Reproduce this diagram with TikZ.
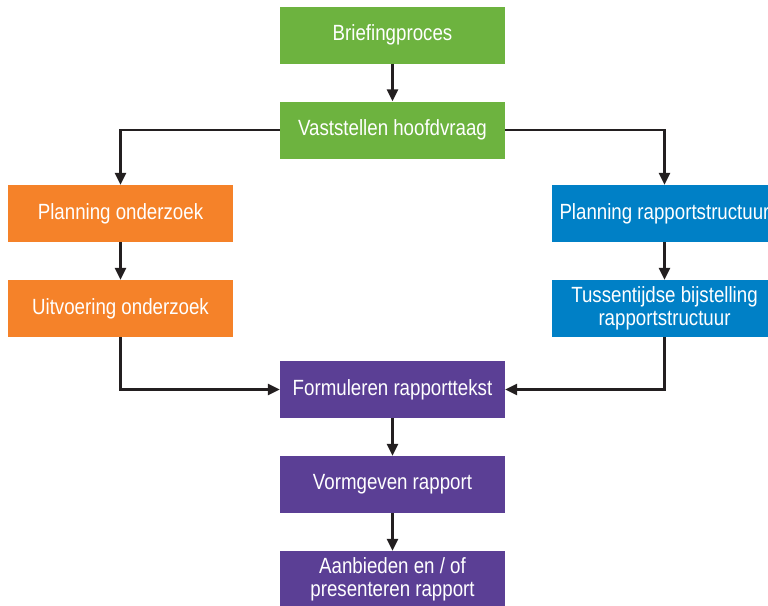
\documentclass[tikz,border=0pt]{standalone}
\usepackage{fontspec}
\setmainfont[FakeStretch=0.85]{Liberation Sans}
\usetikzlibrary{arrows.meta}
\definecolor{cgreen}{HTML}{6DB33F}
\definecolor{corange}{HTML}{F58229}
\definecolor{cblue}{HTML}{0080C6}
\definecolor{cpurple}{HTML}{5B3F95}
\definecolor{cline}{HTML}{231F20}
\begin{document}
\begin{tikzpicture}[x=1pt,y=-1pt,
  box/.style={minimum width=225pt,minimum height=57pt,inner sep=0pt,text=white,
    font=\fontsize{22}{23}\selectfont,align=center},
  conn/.style={draw=cline,line width=2.6pt,-{Triangle[width=11pt,length=12pt]}}]
\clip (0,0) rectangle (768,605);
\useasboundingbox (0,0) rectangle (768,605);
\node[box,fill=cgreen] (brief) at (392.5,35) {Briefingproces};
\node[box,fill=cgreen] (vast) at (392.5,130) {Vaststellen hoofdvraag};
\node[box,fill=corange] (plo) at (120.5,213.5) {Planning onderzoek};
\node[box,fill=corange] (uit) at (120.5,308.5) {Uitvoering onderzoek};
\node[box,fill=cblue] (plr) at (664.5,213.5) {Planning rapportstructuur};
\node[box,fill=cblue] (tus) at (664.5,308.5) {Tussentijdse bijstelling\\rapportstructuur};
\node[box,fill=cpurple] (form) at (392.5,389.5) {Formuleren rapporttekst};
\node[box,fill=cpurple] (vorm) at (392.5,484.5) {Vormgeven rapport};
\node[box,fill=cpurple] (aanb) at (392.5,579.5) {Aanbieden en / of\\presenteren rapport};
\draw[conn] (brief) -- (vast);
\draw[conn] (vast.west) -| (plo.north);
\draw[conn] (vast.east) -| (plr.north);
\draw[conn] (plo) -- (uit);
\draw[conn] (plr) -- (tus);
\draw[conn] (uit.south) |- (form.west);
\draw[conn] (tus.south) |- (form.east);
\draw[conn] (form) -- (vorm);
\draw[conn] (vorm) -- (aanb);
\end{tikzpicture}
\end{document}
